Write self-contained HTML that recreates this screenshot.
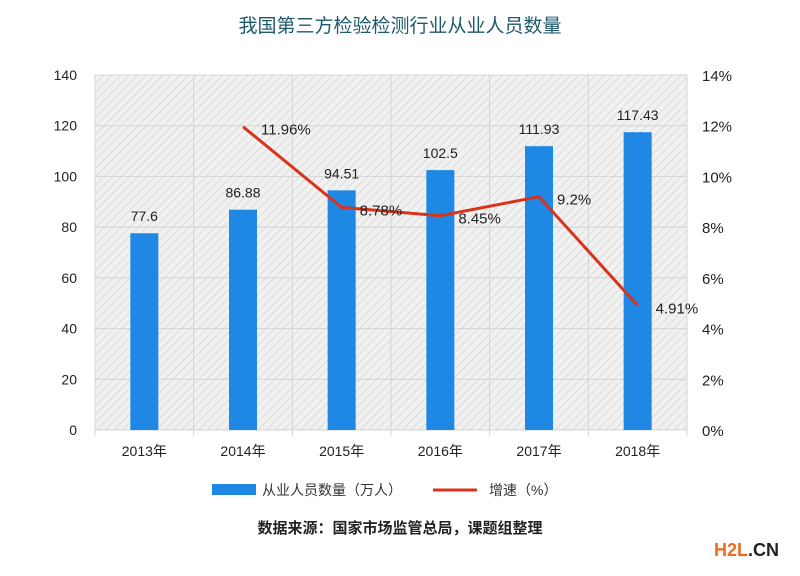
<!DOCTYPE html>
<html><head><meta charset="utf-8">
<style>
body{margin:0;background:#fff;width:800px;height:571px;overflow:hidden;font-family:"Liberation Sans","Noto Sans CJK SC",sans-serif;}
svg text{font-family:"Liberation Sans","Noto Sans CJK SC",sans-serif;}
</style></head>
<body>
<svg id="chart" width="800" height="571">
<defs>
<pattern id="hatch" width="6" height="6" patternUnits="userSpaceOnUse" patternTransform="rotate(45)">
<rect width="6" height="6" fill="#f1f1f1"/>
<line x1="0" y1="0" x2="0" y2="6" stroke="#dcdcdc" stroke-width="2"/>
</pattern>
</defs>
<text x="400" y="32" text-anchor="middle" font-size="19" fill="#1e5a6a">我国第三方检验检测行业从业人员数量</text>
<rect x="95" y="75" width="592" height="355" fill="url(#hatch)"/>
<g id="grid"></g><g id="bars"></g><g id="line"></g><g id="axes"></g>
<g>
<rect x="212" y="484" width="44" height="11" fill="#1f88e5"/>
<text x="262" y="495" font-size="14" fill="#333">从业人员数量（万人）</text>
<line x1="433" y1="490" x2="477" y2="490" stroke="#d9331c" stroke-width="3"/>
<text x="489" y="495" font-size="14" fill="#333">增速（%）</text>
</g>
<text x="400" y="533" text-anchor="middle" font-size="15" font-weight="bold" fill="#222">数据来源：国家市场监管总局，课题组整理</text>
<text x="714" y="556" font-size="18" font-weight="bold" fill="#f26b1d">H2L<tspan fill="#222">.CN</tspan></text>
</svg>
<script>
const categories=["2013年","2014年","2015年","2016年","2017年","2018年"];
const staff=[77.6,86.88,94.51,102.5,111.93,117.43];
const staffLabels=["77.6","86.88","94.51","102.5","111.93","117.43"];
const growth=[null,11.96,8.78,8.45,9.2,4.91];
const growthLabels=["","11.96%","8.78%","8.45%","9.2%","4.91%"];
const leftTicks=[0,20,40,60,80,100,120,140];
const rightTicks=[0,2,4,6,8,10,12,14];
const X0=95,X1=687,Y0=430,Y1=75;
const NS="http://www.w3.org/2000/svg";
const band=(X1-X0)/categories.length;
const xC=i=>X0+band*(i+0.5);
const yL=v=>Y0-v/140*(Y0-Y1);
const yR=v=>Y0-v/14*(Y0-Y1);
function mk(t,a,p,txt){const e=document.createElementNS(NS,t);for(const k in a)e.setAttribute(k,a[k]);if(txt!==undefined)e.textContent=txt;document.getElementById(p).appendChild(e);return e;}
leftTicks.forEach((v,i)=>{
 const g=mk('line',{x1:X0,x2:X1,y1:yL(v),y2:yL(v),stroke:'#d4d4d4','stroke-width':1},'grid');
 
 
 const t=mk('text',{x:77,y:yL(v)+5,'text-anchor':'end','font-size':14,fill:'#222'},'axes',String(v));
 
 
});
rightTicks.forEach(v=>{
 const t=mk('text',{x:702,y:yR(v)+6,'font-size':15,fill:'#222'},'axes',v+'%');
 
 
});
for(let i=0;i<=categories.length;i++){
 const g=mk('line',{x1:X0+band*i,x2:X0+band*i,y1:Y1,y2:Y0+6,stroke:'#d4d4d4','stroke-width':1},'grid');
 
 
}
categories.forEach((c,i)=>{
 const b=mk('rect',{x:xC(i)-14,y:yL(staff[i]),width:28,height:Y0-yL(staff[i]),fill:'#1f88e5'},'bars');
 
 
 const l=mk('text',{x:xC(i),y:yL(staff[i])-12,'text-anchor':'middle','font-size':14,fill:'#222'},'bars',staffLabels[i]);
 
 
 const t=mk('text',{x:xC(i),y:456,'text-anchor':'middle','font-size':14,fill:'#222'},'axes',c);
 
 
});
const pts=[];growth.forEach((g,i)=>{if(g!==null)pts.push([xC(i),yR(g),i]);});
const pl=mk('polyline',{points:pts.map(p=>p[0]+','+p[1]).join(' '),fill:'none',stroke:'#d9331c','stroke-width':3},'line');


pts.forEach(p=>{
 const t=mk('text',{x:p[0]+18,y:p[1]+8,'font-size':15,fill:'#222'},'line',growthLabels[p[2]]);
 
 
});
</script>
</body></html>
